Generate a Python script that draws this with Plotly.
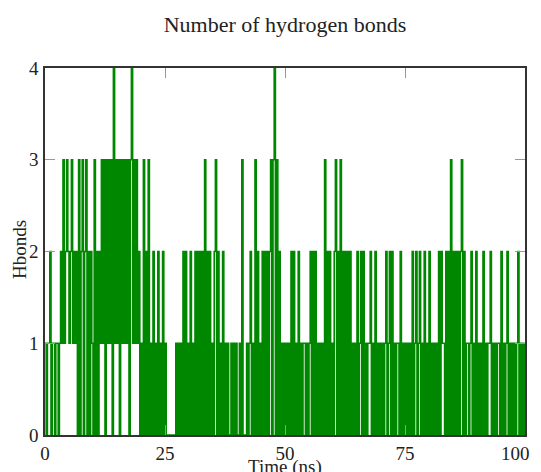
import numpy as np
import plotly.graph_objects as go

hbond_blocks = [
    "10112011011012131232",  # 0-5
    "12312120302302302021",  # 5-10
    "03020213130313130413",  # 10-15
    "13031313130341313120",  # 15-20
    "10302030102010201020",  # 20-25
    "10000000010101020201",  # 25-30
    "02010202020203020201",  # 30-35
    "02302010201010010101",  # 35-40
    "00103000101201030201",  # 40-45
    "02020202303403020101",  # 45-50
    "01010202010201011010",  # 50-55
    "12020201010103020201",  # 55-60
    "02302030202020201010",  # 60-65
    "20120201011201020101",  # 65-70
    "01012012020101102010",  # 70-75
    "10101020120120102010",  # 75-80
    "20101010202110202030",  # 80-85
    "20202023020110120102",  # 85-90
    "01010201011201010110",  # 90-95
    "20101201010101201010",  # 95-100
    "1",                     # 100
]
time_step_ns = 0.25
hbonds = [int(c) for c in "".join(hbond_blocks)]
time_ns = [i * time_step_ns for i in range(len(hbonds))]

x_ticks = [0, 25, 50, 75, 100]
x_tick_labels = ["0", "25", "50", "75", "100"]
y_ticks = [0, 1, 2, 3, 4]

title_text = "Number of hydrogen bonds"
x_title = "Time (ns)"
y_title = "Hbonds"

serif = "Liberation Serif, Times New Roman, serif"

fig = go.Figure()
fig.add_trace(go.Scatter(
    x=time_ns, y=hbonds, mode="lines",
    line=dict(color="rgb(0,135,0)", width=1.6, shape="hv"),
    showlegend=False, hoverinfo="skip",
))

axis_common = dict(
    showgrid=False, zeroline=False, automargin=False,
    showline=True, linecolor="#333", linewidth=1.5, mirror="ticks",
    ticks="inside", ticklen=10, tickcolor="#999", tickwidth=1,
    tickfont=dict(family=serif, size=19, color="#222"),
    layer="above traces",
)

# the last x tick label sits at the window edge, so it is drawn right-aligned as an annotation
shown_x_labels = x_tick_labels[:-1] + [""]

# the page body has an 8px margin; margins compensate so the plot area sits at x 45-525, y 68-435
fig.update_layout(
    width=541, height=472,
    margin=dict(l=37, r=24, t=60, b=45, autoexpand=False),
    paper_bgcolor="white", plot_bgcolor="white",
    title=dict(text=title_text, xref="paper", x=0.5, xanchor="center",
               yref="container", y=1 - 16 / 472, yanchor="middle",
               font=dict(family=serif, size=22, color="#222")),
    xaxis=dict(range=[0, 100], tickvals=x_ticks, ticktext=shown_x_labels,
               ticklabelstandoff=0, **axis_common),
    yaxis=dict(range=[0, 4], tickvals=y_ticks, ticklabelstandoff=1, **axis_common),
    annotations=[
        dict(text=x_tick_labels[-1], xref="paper", yref="paper",
             x=1 + 7 / 480, y=-18 / 367, xanchor="right", yanchor="middle",
             showarrow=False, font=dict(family=serif, size=19, color="#222")),
        dict(text=x_title, xref="paper", yref="paper", x=0.5, y=-32 / 367,
             xanchor="center", yanchor="middle", showarrow=False,
             font=dict(family=serif, size=19, color="#222")),
        dict(text=y_title, xref="paper", yref="paper", x=-26 / 480, y=0.504,
             xanchor="center", yanchor="middle", showarrow=False, textangle=-90,
             font=dict(family=serif, size=19, color="#222")),
    ],
)

fig.write_html("out.html")
